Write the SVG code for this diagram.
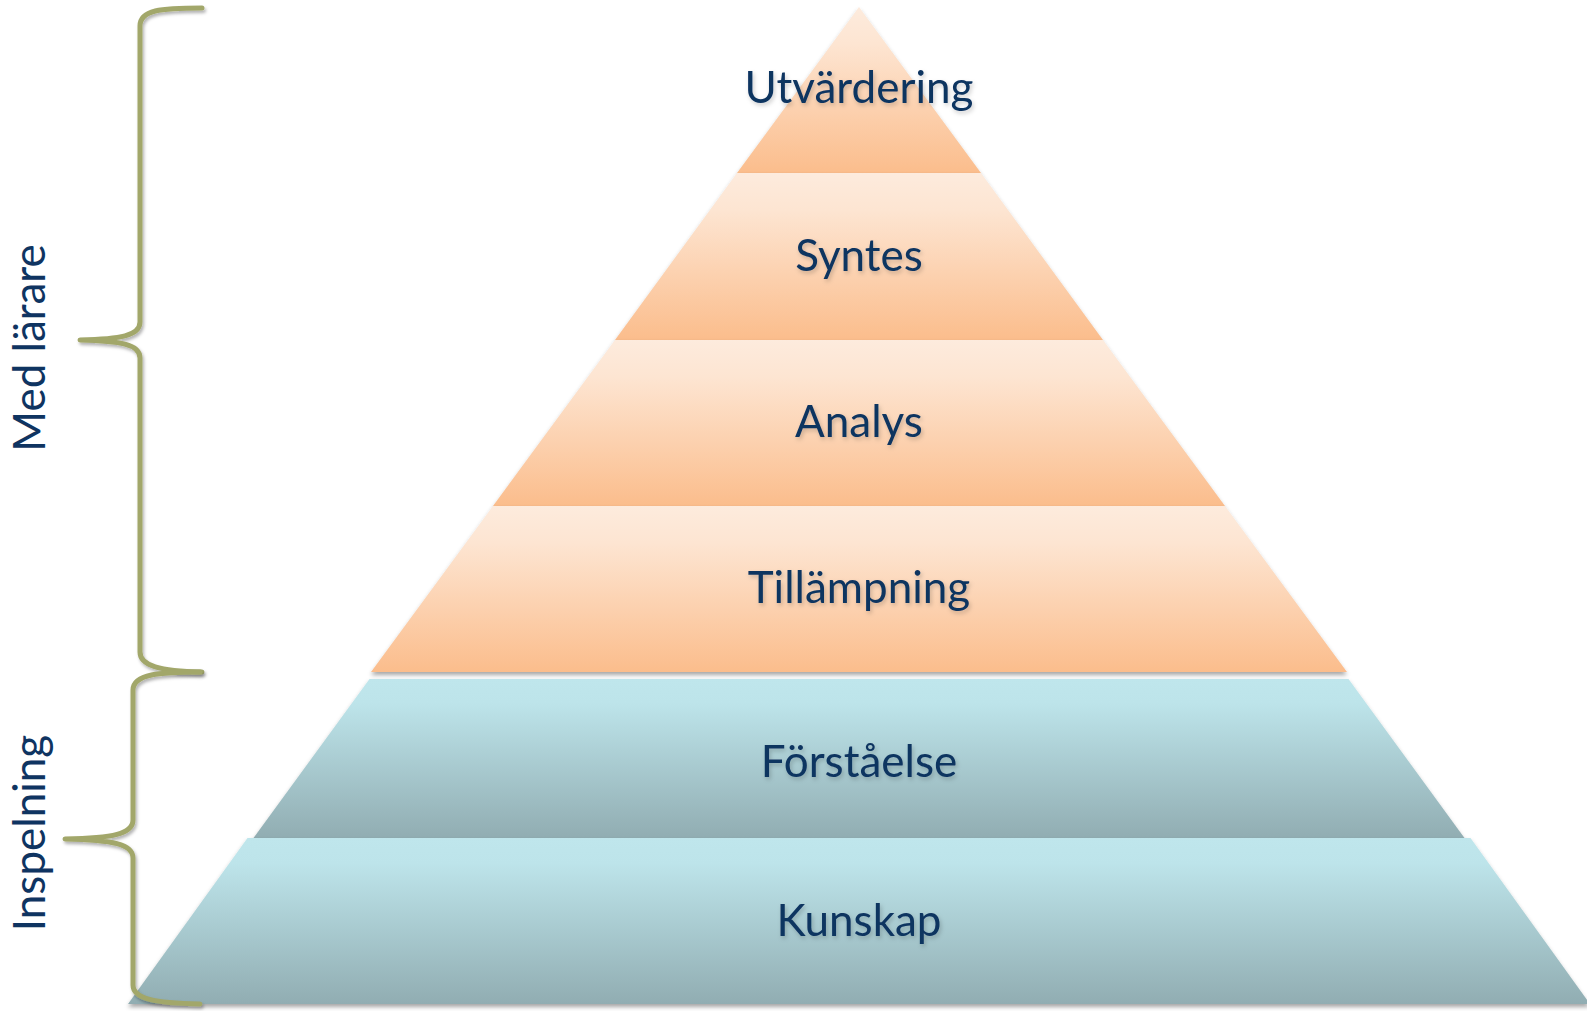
<svg xmlns="http://www.w3.org/2000/svg" width="1587" height="1011" viewBox="0 0 1587 1011">
  <defs>
    <linearGradient id="gOrange" x1="0" y1="0" x2="0" y2="1">
      <stop offset="0" stop-color="#FDEBDD"/>
      <stop offset="0.22" stop-color="#FDE5D2"/>
      <stop offset="1" stop-color="#FBBD8C"/>
    </linearGradient>
    <linearGradient id="gBlue" x1="0" y1="0" x2="0" y2="1">
      <stop offset="0" stop-color="#BFE6EC"/>
      <stop offset="0.15" stop-color="#BDE4EA"/>
      <stop offset="1" stop-color="#91ADB2"/>
    </linearGradient>
    <filter id="shLayer" x="-5%" y="-5%" width="110%" height="115%">
      <feDropShadow dx="0" dy="3" stdDeviation="2" flood-color="#000" flood-opacity="0.35"/>
    </filter>
    <filter id="shText" x="-10%" y="-20%" width="120%" height="150%">
      <feDropShadow dx="1.5" dy="2.5" stdDeviation="2" flood-color="#000" flood-opacity="0.2"/>
    </filter>
    <filter id="shBrace" x="-20%" y="-5%" width="140%" height="110%">
      <feDropShadow dx="1.5" dy="2.5" stdDeviation="1.8" flood-color="#000" flood-opacity="0.3"/>
    </filter>
  </defs>
  <style>
    .orange { fill: url(#gOrange); filter: url(#shLayer); }
    .blue { fill: url(#gBlue); filter: url(#shLayer); }
    .lbl { font-family: Lato, "Open Sans", "Liberation Sans", sans-serif; font-size: 44px; fill: #0F3461; text-anchor: middle; filter: url(#shText); }
    .side { font-family: Lato, "Open Sans", "Liberation Sans", sans-serif; font-size: 44px; fill: #0F3461; text-anchor: middle; }
    .brace { fill: none; stroke: #A2A76B; stroke-width: 5; stroke-linecap: round; stroke-linejoin: round; filter: url(#shBrace); }
  </style>
  <rect width="1587" height="1011" fill="#FFFFFF"/>

  <g id="utvardering">
    <polygon class="orange" points="859,7 981,173 737,173"/>
    <text class="lbl" x="859" y="103">Utvärdering</text>
  </g>
  <g id="syntes">
    <polygon class="orange" points="737,173 981,173 1103,340 615,340"/>
    <text class="lbl" x="859" y="271">Syntes</text>
  </g>
  <g id="analys">
    <polygon class="orange" points="615,340 1103,340 1225,506 493,506"/>
    <text class="lbl" x="859" y="437">Analys</text>
  </g>
  <g id="tillampning">
    <polygon class="orange" points="493,506 1225,506 1347,672 371,672"/>
    <text class="lbl" x="859" y="603">Tillämpning</text>
  </g>
  <g id="forstaelse">
    <polygon class="blue" points="369.5,679 1348.5,679 1464.5,838 253.5,838"/>
    <text class="lbl" x="859" y="777">Förståelse</text>
  </g>
  <g id="kunskap">
    <polygon class="blue" points="247.5,838 1470.5,838 1590,1004 128,1004"/>
    <text class="lbl" x="859" y="936">Kunskap</text>
  </g>

  <g id="brace-med-larare">
    <path class="brace" d="M202,8 C160,8 140,10 140,26 L140,322 C140,336 120,339 80,340 C120,341 140,344 140,358 L140,652 C140,666 160,671 202,672"/>
    <text class="side" transform="translate(45,348) rotate(-90)">Med lärare</text>
  </g>
  <g id="brace-inspelning">
    <path class="brace" d="M200,672 C160,672 133,674 133,690 L133,820 C133,834 113,838 65,839 C113,840 133,844 133,858 L133,985 C133,999 155,1003 200,1004"/>
    <text class="side" transform="translate(45,833) rotate(-90)">Inspelning</text>
  </g>
</svg>
